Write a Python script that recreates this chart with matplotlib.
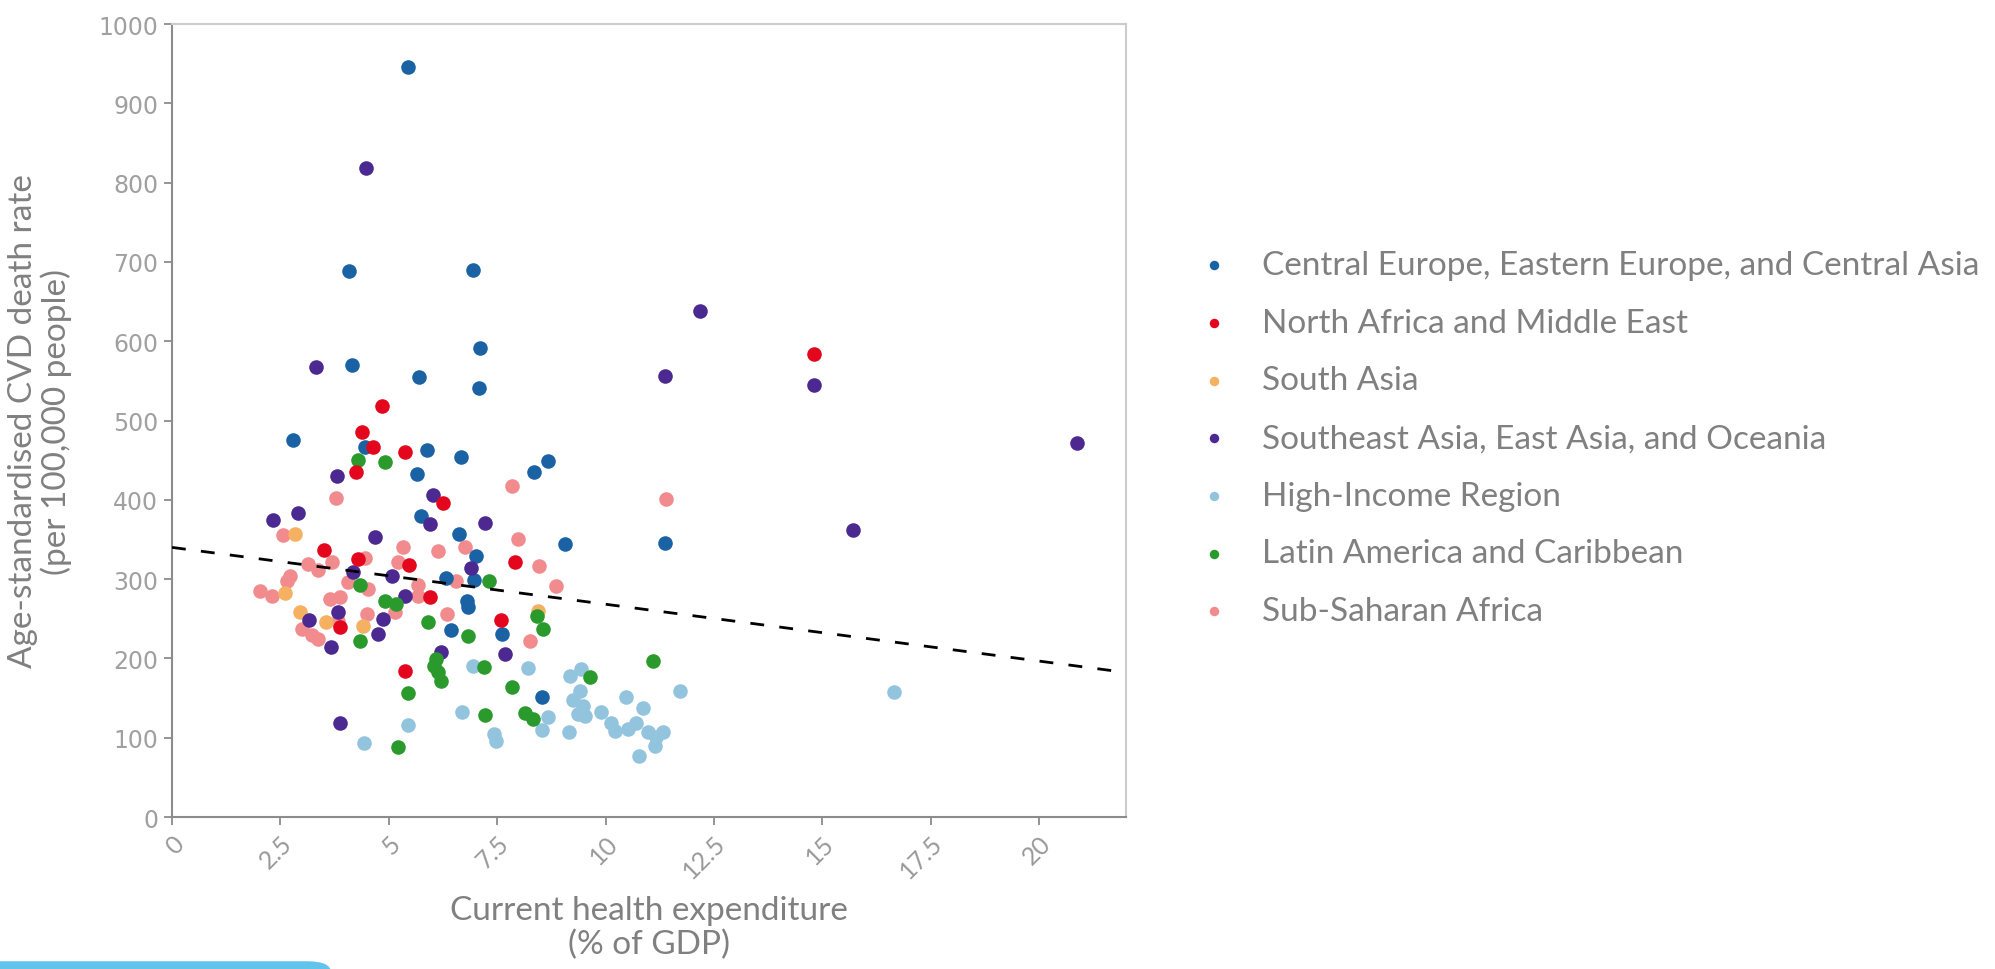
import matplotlib
matplotlib.use("Agg")
import matplotlib.pyplot as plt
from matplotlib.patches import FancyBboxPatch
import numpy as np

# health expenditure (% of GDP) vs CVD death rate, one pair of lists per region
central_x = [5.44, 4.08, 6.95, 7.10, 4.16, 5.69, 7.09, 2.80, 4.45, 5.87, 6.66, 5.65, 8.34,
             8.68, 5.74, 6.63, 9.06, 11.36, 7.00, 6.31, 6.96, 6.80, 6.83, 6.44, 7.62, 8.53]
central_y = [946, 688, 690, 591, 570, 555, 541, 476, 467, 463, 454, 432, 435,
             449, 380, 357, 344, 346, 329, 302, 299, 272, 265, 236, 231, 151]

nafme_x = [4.84, 4.39, 4.64, 4.25, 5.37, 6.25, 3.51, 4.29, 5.47, 7.90, 5.94, 3.87, 7.58, 5.37, 14.81]
nafme_y = [518, 486, 467, 435, 460, 396, 337, 325, 318, 322, 277, 239, 249, 184, 584]

south_asia_x = [2.83, 2.60, 2.95, 3.56, 4.41, 8.43]
south_asia_y = [357, 283, 258, 246, 241, 260]

se_asia_x = [4.47, 3.31, 12.17, 11.38, 14.81, 20.87, 15.70, 3.81, 6.02, 2.32, 2.91, 5.96, 7.21,
             4.68, 4.18, 5.08, 6.90, 5.37, 3.16, 3.83, 4.87, 4.75, 3.66, 6.21, 7.67, 3.87]
se_asia_y = [818, 568, 638, 556, 545, 472, 362, 430, 406, 374, 383, 369, 371,
             353, 309, 304, 314, 279, 248, 258, 250, 231, 215, 208, 205, 118]

high_x = [6.94, 8.21, 9.17, 9.44, 9.40, 9.25, 9.48, 9.36, 9.52, 9.15, 10.48, 10.86, 9.90, 10.13,
          10.21, 10.51, 10.71, 10.97, 11.17, 11.32, 11.13, 10.76, 11.71, 16.66, 4.42, 5.45,
          6.69, 7.42, 7.48, 8.67, 8.54]
high_y = [191, 188, 178, 187, 159, 147, 140, 130, 128, 107, 151, 138, 132, 119,
          109, 111, 119, 107, 101, 107, 90, 77, 159, 158, 93, 116,
          133, 105, 96, 126, 110]

latin_x = [4.28, 4.92, 4.33, 4.91, 5.17, 7.31, 4.33, 5.91, 6.83, 8.42, 8.56, 6.10, 6.04, 6.14,
           6.20, 7.19, 5.45, 7.23, 7.83, 8.13, 8.33, 5.21, 9.63, 11.09]
latin_y = [450, 448, 292, 273, 269, 298, 222, 246, 228, 253, 237, 199, 190, 183,
           172, 189, 156, 129, 164, 131, 123, 88, 176, 197]

ssa_x = [3.78, 7.83, 11.39, 2.56, 5.32, 6.14, 6.75, 7.97, 4.44, 3.14, 3.37, 3.68, 5.21, 8.46,
         2.72, 2.66, 6.56, 8.85, 4.06, 4.52, 5.67, 5.67, 2.03, 2.30, 3.64, 3.87, 5.14, 6.34,
         4.49, 3.83, 2.99, 3.22, 3.37, 8.25]
ssa_y = [402, 418, 401, 356, 340, 335, 340, 351, 327, 319, 311, 321, 321, 316,
         304, 298, 298, 291, 296, 288, 292, 279, 285, 279, 275, 277, 259, 256,
         256, 247, 237, 229, 224, 222]

regions = ["Central Europe, Eastern Europe, and Central Asia",
           "North Africa and Middle East",
           "South Asia",
           "Southeast Asia, East Asia, and Oceania",
           "High-Income Region",
           "Latin America and Caribbean",
           "Sub-Saharan Africa"]

# fitted trend line
trend_intercept = 340
trend_slope = -7.17

x_ticks = [0, 2.5, 5, 7.5, 10, 12.5, 15, 17.5, 20]
x_tick_labels = ["0", "2.5", "5", "7.5", "10", "12.5", "15", "17.5", "20"]
y_ticks = [0, 100, 200, 300, 400, 500, 600, 700, 800, 900, 1000]

series = [(central_x, central_y, "#1b62a5", 2.3),
          (nafme_x, nafme_y, "#e3061c", 2.6),
          (south_asia_x, south_asia_y, "#f5b062", 2.2),
          (se_asia_x, se_asia_y, "#4b2991", 2.4),
          (high_x, high_y, "#93c4dd", 2.0),
          (latin_x, latin_y, "#2b9a2d", 2.5),
          (ssa_x, ssa_y, "#f28b8e", 2.1)]

grey = "#808080"
fig = plt.figure(figsize=(19.95, 9.70), dpi=100)
ax = fig.add_axes([0.0862, 0.1567, 0.4782, 0.8175])

for (xs, ys, col, z), name in zip(series, regions):
    ax.scatter(xs, ys, s=110, color=col, linewidths=0, zorder=z, label=name)

xl = np.array([0, 22])
ax.plot(xl, trend_intercept + trend_slope * xl, color="black", lw=2.0,
        ls=(0, (5, 5.5)), zorder=3)

ax.set_xlim(0, 22)
ax.set_ylim(0, 1000)
ax.set_xticks(x_ticks)
ax.set_xticklabels(x_tick_labels, rotation=45, ha="right", va="top",
                   rotation_mode="anchor", family="Lato", fontsize=18, color="#999999")
ax.set_yticks(y_ticks)
for lab in ax.get_yticklabels():
    lab.set_family("DejaVu Sans")
    lab.set_fontsize(17)
    lab.set_color("#a0a0a0")
ax.tick_params(axis="both", direction="out", length=6, width=1.3, color="#8c8c8c", pad=4)

for side in ["left", "bottom"]:
    ax.spines[side].set_color("#8c8c8c")
    ax.spines[side].set_linewidth(1.5)
for side in ["top", "right"]:
    ax.spines[side].set_color("#cccccc")
    ax.spines[side].set_linewidth(1.5)

ax.set_xlabel("Current health expenditure\n(% of GDP)", family="Lato", fontsize=24,
              color=grey, linespacing=1.15)
ax.xaxis.set_label_coords(0.5, -0.098)
ax.set_ylabel("Age-standardised CVD death rate\n(per 100,000 people)", family="Lato",
              fontsize=24, color=grey, linespacing=1.1)
ax.yaxis.set_label_coords(-0.105, 0.5)

leg = ax.legend(loc="upper left", bbox_to_anchor=(0.586, 0.772), bbox_transform=fig.transFigure,
                frameon=False, prop={"family": "Lato", "size": 24}, markerscale=0.65,
                handletextpad=1.0, labelspacing=0.83, handlelength=0.9)
for t in leg.get_texts():
    t.set_color(grey)

# light blue tab in the lower left corner
fig.patches.append(FancyBboxPatch((-0.02, -0.02), 0.186, 0.028, boxstyle="round,pad=0,rounding_size=0.012",
                                  transform=fig.transFigure, facecolor="#62c3ec", edgecolor="none"))

fig.savefig("out.png", dpi=100)
